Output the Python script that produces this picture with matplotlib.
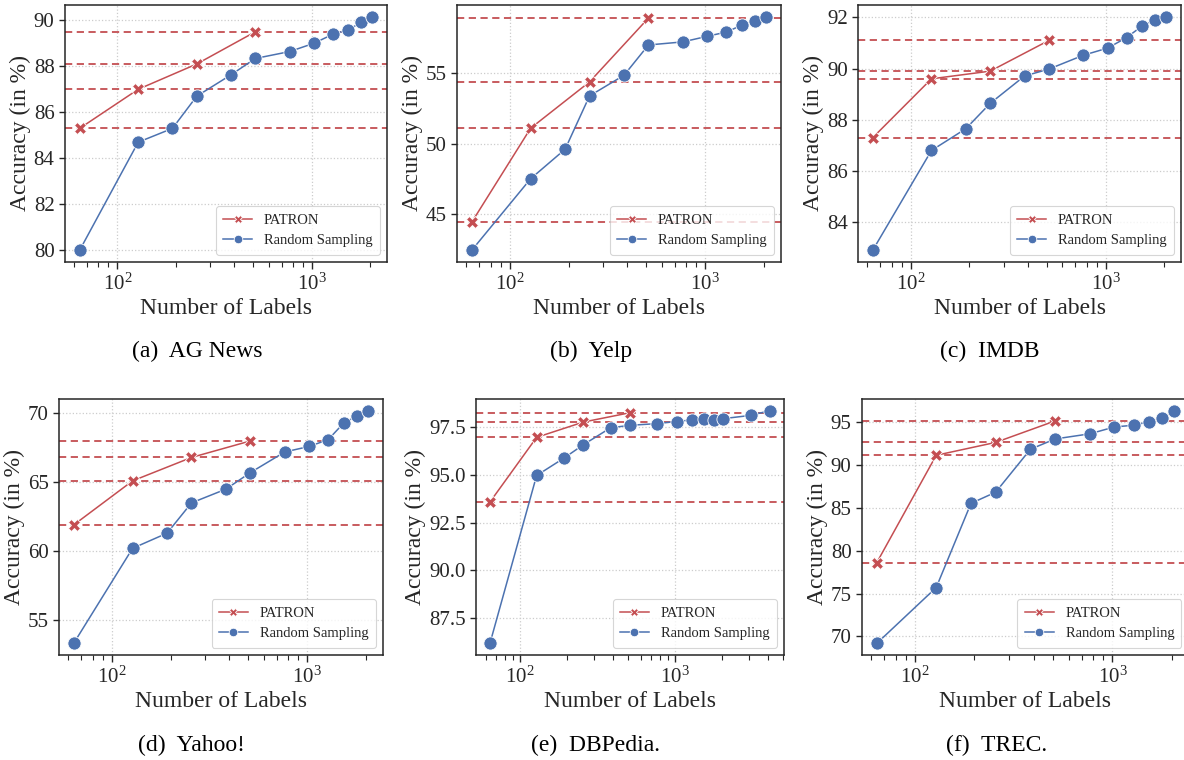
import numpy as np
from matplotlib import pyplot as plt
from matplotlib.ticker import MultipleLocator, FormatStrFormatter

plt.rcParams['font.family'] = ['Liberation Serif', 'DejaVu Serif']
plt.rcParams['mathtext.fontset'] = 'custom'
plt.rcParams['mathtext.rm'] = 'Liberation Serif'
plt.rcParams['mathtext.it'] = 'Liberation Serif:italic'

# number of labels
patron_x = [64, 128, 256, 512]
random_x = [64, 128, 192, 256, 384, 512, 768, 1024, 1280, 1536, 1792, 2048]
random_x_dbpedia = random_x + [3072, 4096]

# accuracy (in %)
agnews_patron = [85.3, 87.0, 88.1, 89.5]
agnews_random = [80.0, 84.7, 85.3, 86.7, 87.63, 88.34, 88.64, 89.0, 89.39, 89.58, 89.91, 90.16]

yelp_patron = [44.4, 51.1, 54.4, 58.95]
yelp_random = [42.4, 47.5, 49.6, 53.4, 54.87, 57.03, 57.25, 57.65, 57.95, 58.44, 58.75, 59.05]

imdb_patron = [87.3, 89.6, 89.9, 91.1]
imdb_random = [82.9, 86.8, 87.65, 88.64, 89.71, 89.98, 90.52, 90.8, 91.21, 91.66, 91.9, 92.03]

yahoo_patron = [61.9, 65.1, 66.8, 68.0]
yahoo_random = [53.3, 60.2, 61.3, 63.5, 64.5, 65.7, 67.2, 67.6, 68.1, 69.3, 69.8, 70.2]

dbpedia_patron = [93.58, 96.97, 97.77, 98.26]
dbpedia_random = [86.17, 94.97, 95.88, 96.58, 97.47, 97.6, 97.69, 97.8, 97.88, 97.92,
                  97.87, 97.95, 98.12, 98.37]

trec_patron = [78.6, 91.1, 92.6, 95.1]
trec_random = [69.2, 75.7, 85.5, 86.8, 91.8, 93.0, 93.6, 94.4, 94.6, 95.0, 95.4, 96.3]

captions = ['(a)  AG News', '(b)  Yelp', '(c)  IMDB',
            '(d)  Yahoo!', '(e)  DBPedia.', '(f)  TREC.']

panels = [
    (random_x, agnews_patron, agnews_random, 2, '%d'),
    (random_x, yelp_patron, yelp_random, 5, '%d'),
    (random_x, imdb_patron, imdb_random, 2, '%d'),
    (random_x, yahoo_patron, yahoo_random, 5, '%d'),
    (random_x_dbpedia, dbpedia_patron, dbpedia_random, 2.5, '%.1f'),
    (random_x, trec_patron, trec_random, 5, '%d'),
]

# axes rectangles in figure fractions (left, bottom, width, height)
rects = [
    (0.0549, 0.6553, 0.2720, 0.3382),
    (0.3860, 0.6553, 0.2736, 0.3382),
    (0.7247, 0.6553, 0.2728, 0.3382),
    (0.0498, 0.1382, 0.2736, 0.3368),
    (0.4020, 0.1382, 0.2601, 0.3368),
    (0.7280, 0.1382, 0.2760, 0.3368),
]
caption_pos = [(0.167, 0.538), (0.499, 0.538), (0.836, 0.538),
               (0.162, 0.019), (0.503, 0.019), (0.842, 0.019)]

red = '#C44E52'
blue = '#4C72B0'
label_color = '#262626'

fig = plt.figure(figsize=(11.84, 7.6), dpi=100)

for i, (rx, patron, rand, step, fmt) in enumerate(panels):
    ax = fig.add_axes(rects[i])
    ax.set_xscale('log')

    for val in patron:
        ax.axhline(val, color=red, linestyle='--', linewidth=1.3, dashes=(4, 2.5), zorder=1)

    ax.plot(patron_x, patron, color=red, marker='X', markersize=9, linewidth=1.1,
            markeredgecolor='white', markeredgewidth=0.6, label='PATRON', zorder=3)
    ax.plot(rx, rand, color=blue, marker='o', markersize=9.5, linewidth=1.1,
            markeredgecolor='white', markeredgewidth=0.6, label='Random Sampling', zorder=3)

    ax.yaxis.set_major_locator(MultipleLocator(step))
    ax.yaxis.set_major_formatter(FormatStrFormatter(fmt))
    ax.grid(True, which='major', linestyle=':', color='#cccccc', linewidth=0.9, zorder=0)
    ax.set_axisbelow(True)

    for spine in ax.spines.values():
        spine.set_color('#262626')
        spine.set_linewidth(1.1)
    ax.tick_params(axis='both', which='major', labelsize=15, colors=label_color,
                   direction='out', length=5, width=1)
    ax.tick_params(axis='x', which='minor', direction='out', length=3.5, width=0.8,
                   colors=label_color)
    ax.tick_params(axis='y', which='major', length=4)

    ax.set_xlabel('Number of Labels', fontsize=17, color=label_color, labelpad=2)
    ax.set_ylabel('Accuracy (in %)', fontsize=17, color=label_color, labelpad=2)

    leg = ax.legend(loc='lower right', fontsize=10.5, frameon=True, fancybox=True,
                    borderpad=0.5, handlelength=2.0, labelspacing=0.5, markerscale=0.65)
    leg.get_frame().set_edgecolor('#cccccc')
    leg.get_frame().set_linewidth(0.8)
    for t in leg.get_texts():
        t.set_color(label_color)

    fig.text(caption_pos[i][0], caption_pos[i][1], captions[i], fontsize=17,
             ha='center', va='center', color='black')

fig.savefig('out.png', dpi=100)
